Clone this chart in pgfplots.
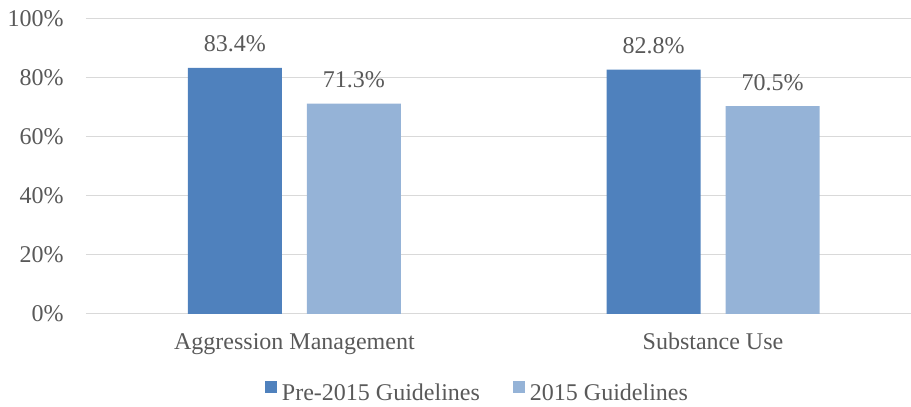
\documentclass[border=0pt]{standalone}
\usepackage{fontspec}
\setmainfont{Liberation Serif}
\usepackage{pgfplots}
\pgfplotsset{compat=1.18}
\definecolor{darkb}{HTML}{4F81BD}
\definecolor{lightb}{HTML}{95B3D7}
\definecolor{txt}{HTML}{595959}
\definecolor{gridc}{HTML}{D9D9D9}
\newcommand{\bigf}{\fontsize{18pt}{21.6pt}\selectfont}
\begin{document}
\begin{tikzpicture}
\useasboundingbox (0,0) rectangle (683.25pt,305.25pt);
\begin{axis}[
  at={(64.5pt,69.75pt)}, anchor=south west,
  scale only axis, width=618.75pt, height=221.25pt,
  ymin=0, ymax=100, xmin=-0.498, xmax=1.473,
  ytick={0,20,40,60,80,100},
  xtick={0,1},
  xticklabels={Aggression Management, Substance Use},
  ymajorgrids, grid style={gridc, line width=0.75pt},
  axis line style={draw=none},
  major tick length=0pt,
  /pgf/number format/assume math mode=true,
  yticklabel={\pgfmathprintnumber{\tick}\%},
  yticklabel style={font=\bigf, text=txt, anchor=east, inner sep=0pt, xshift=-16.5pt},
  xticklabel style={font=\bigf, text=txt, anchor=base, inner sep=0pt, yshift=-27pt},
  ybar=18.75pt, bar width=70.5pt,
  nodes near coords={\pgfmathprintnumber[fixed, fixed zerofill, precision=1]{\pgfplotspointmeta}\%},
  nodes near coords style={font=\bigf, text=txt, anchor=base, inner sep=0pt, yshift=12pt},
  legend columns=2,
  legend style={at={(0.4733,-0.268)}, anchor=center, draw=none, fill=none, inner sep=0pt,
    font=\bigf, text=txt, nodes={inner xsep=0pt},
    /tikz/every odd column/.append style={column sep=3.75pt},
    /tikz/every even column/.append style={column sep=24.75pt}},
  legend image code/.code={\fill[#1] (0pt,0.75pt) rectangle (9pt,9.75pt);},
]
\addplot[fill=darkb, draw=none] coordinates {(0,83.4) (1,82.8)};
\addplot[fill=lightb, draw=none] coordinates {(0,71.3) (1,70.5)};
\legend{Pre-2015 Guidelines, 2015 Guidelines}
\end{axis}
\end{tikzpicture}
\end{document}
